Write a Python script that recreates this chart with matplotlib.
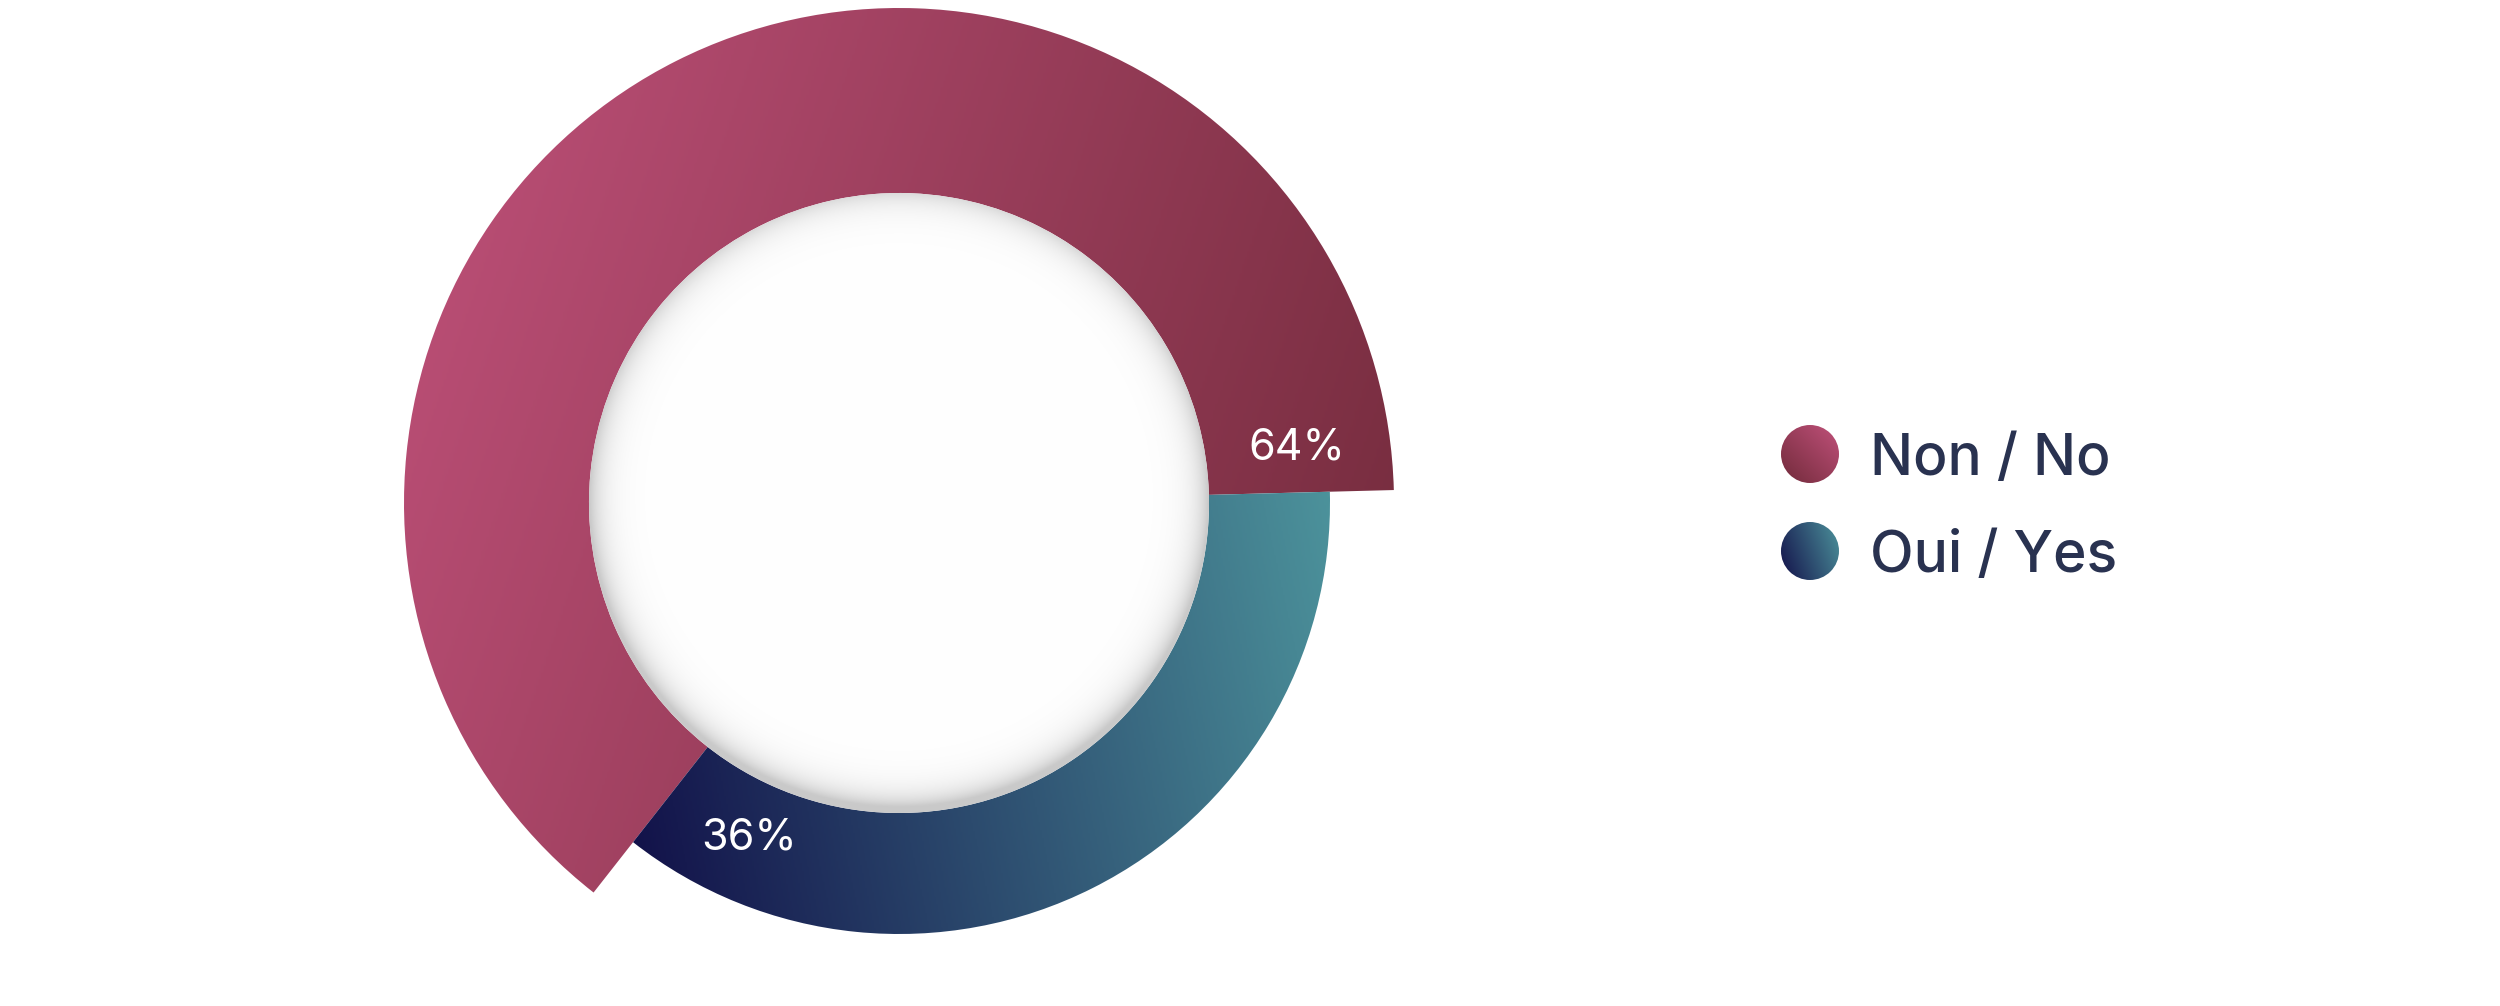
import numpy as np
import matplotlib
matplotlib.use("Agg")
import matplotlib.pyplot as plt
from matplotlib.patches import Wedge, Circle
from matplotlib.colors import LinearSegmentedColormap

labels = ["Non / No", "Oui / Yes"]
shares = [64, 36]
pct_text = ["64%", "36%"]

# styling
grad = [("#C0517A", "#712A3A"), ("#110F48", "#4C929B")]
grad_angle = [-17, 8]
outer_r = [495, 431]
inner_r = 310
cx, cy = 899, 503
start = 1.5
label_off = [6.3, 14.0]
label_r = [402, 367]

plt.rcParams["font.family"] = ["Inter", "DejaVu Sans"]

fig = plt.figure(figsize=(25, 10.06), dpi=100)
ax = fig.add_axes([0, 0, 1, 1])
ax.set_xlim(0, 2500)
ax.set_ylim(0, 1006)
ax.set_aspect("equal")
ax.axis("off")


def gradient_fill(patch, box, c0, c1, angle, z):
    X, Y = np.meshgrid(np.linspace(0, 1, 400), np.linspace(0, 1, 400))
    a = np.deg2rad(angle)
    t = X * np.cos(a) + Y * np.sin(a)
    t = (t - t.min()) / (t.max() - t.min())
    cmap = LinearSegmentedColormap.from_list("g", [c0, c1])
    im = ax.imshow(t, cmap=cmap, extent=box, origin="lower",
                   interpolation="bilinear", zorder=z)
    ax.add_patch(patch)
    patch.set_visible(False)
    im.set_clip_path(patch)


# ring slices
theta = start
for i, s in enumerate(shares):
    span = s / sum(shares) * 360
    w = Wedge((cx, cy), outer_r[i], theta, theta + span,
              width=outer_r[i] - inner_r, lw=0)
    ext = w.get_path().get_extents()
    gradient_fill(w, (ext.x0, ext.x1, ext.y0, ext.y1),
                  grad[i][0], grad[i][1], grad_angle[i], 2)
    a = np.deg2rad(theta + label_off[i])
    ax.text(cx + label_r[i] * np.cos(a), cy + label_r[i] * np.sin(a), pct_text[i],
            color="white", fontsize=31, ha="center", va="center", zorder=5)
    theta += span

# inner white disc with soft inset shading
n = 500
X, Y = np.meshgrid(np.linspace(-inner_r, inner_r, n), np.linspace(-inner_r, inner_r, n))
d = np.hypot(X, Y - 6)
edge = np.clip(inner_r - d, 0, None)
shade = 0.26 * np.exp(-edge / 14.0)
rgba = np.ones((n, n, 4))
rgba[..., :3] = 1 - shade[..., None] * 0.8
disc = Circle((cx, cy), inner_r, lw=0)
ax.add_patch(disc)
disc.set_visible(False)
im = ax.imshow(rgba, extent=(cx - inner_r, cx + inner_r, cy - inner_r, cy + inner_r),
               origin="lower", interpolation="bilinear", zorder=3)
im.set_clip_path(disc)

# legend
leg_grad = [("#712A3A", "#C0517A"), ("#13114A", "#4C929B")]
leg_angle = [45, 20]
leg_y = [1006 - 454, 1006 - 551]
for i, lab in enumerate(labels):
    c = Circle((1810, leg_y[i]), 29, lw=0)
    gradient_fill(c, (1781, 1839, leg_y[i] - 29, leg_y[i] + 29),
                  leg_grad[i][0], leg_grad[i][1], leg_angle[i], 4)
    ax.text(1870, leg_y[i], lab, color="#293250", fontsize=41, fontweight=500,
            ha="left", va="center_baseline", zorder=5)

fig.savefig("out.png", dpi=100, facecolor="white")
